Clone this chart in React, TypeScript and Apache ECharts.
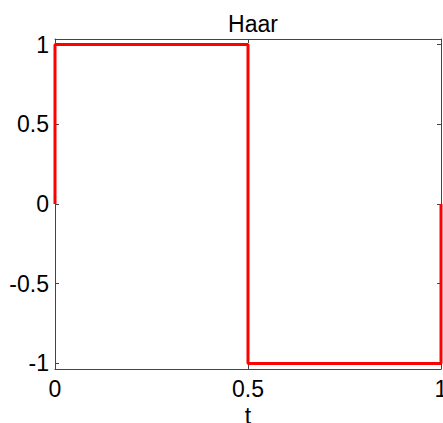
import React, { useEffect, useRef } from "react";
import * as echarts from "echarts";

const tValues = [0, 0, 0.5, 0.5, 1, 1];
const haarValues = [0, 1, 1, -1, -1, 0];
const xTicks = [0, 0.5, 1];
const yTicks = [-1, -0.5, 0, 0.5, 1];
const titleText = "Haar";
const xName = "t";

export default function App() {
  const ref = useRef<HTMLDivElement>(null);
  useEffect(() => {
    if (!ref.current) return;
    const chart = echarts.init(ref.current, null, { renderer: "svg" });
    const font = "'Liberation Sans', Arial, sans-serif";
    const axisLine = { show: true, onZero: false, lineStyle: { color: "#444", width: 1 } };
    const tick = { show: true, inside: true, length: 4, lineStyle: { color: "#444", width: 1 } };
    chart.setOption({
      animation: false,
      backgroundColor: "#ffffff",
      title: {
        text: titleText,
        left: 248,
        top: 7,
        textAlign: "center",
        textStyle: { fontFamily: font, fontSize: 23, fontWeight: "normal", color: "#000" },
      },
      grid: { left: 55, top: 39, width: 386, height: 330, containLabel: false, outerBoundsMode: "none" },
      xAxis: [
        {
          type: "value",
          min: 0,
          max: 1,
          interval: 0.5,
          position: "bottom",
          axisLine,
          axisTick: { ...tick, customValues: xTicks },
          axisLabel: { customValues: xTicks, color: "#000", fontFamily: font, fontSize: 23, margin: 8 },
          splitLine: { show: false },
          name: xName,
          nameLocation: "middle",
          nameGap: 28,
          nameTextStyle: { color: "#000", fontFamily: font, fontSize: 23 },
        },
        {
          type: "value",
          min: 0,
          max: 1,
          interval: 0.5,
          position: "top",
          axisLine,
          axisTick: { ...tick, customValues: xTicks },
          axisLabel: { show: false },
          splitLine: { show: false },
        },
      ],
      yAxis: [
        {
          type: "value",
          min: -1.035,
          max: 1.035,
          position: "left",
          axisLine,
          axisTick: { ...tick, customValues: yTicks },
          axisLabel: {
            customValues: yTicks,
            color: "#000",
            fontFamily: font,
            fontSize: 23,
            margin: 6,
            formatter: (v: number) => String(v),
          },
          splitLine: { show: false },
        },
        {
          type: "value",
          min: -1.035,
          max: 1.035,
          position: "right",
          axisLine,
          axisTick: { ...tick, customValues: yTicks },
          axisLabel: { show: false },
          splitLine: { show: false },
        },
      ],
      series: [
        {
          type: "line",
          data: tValues.map((t, i) => [t, haarValues[i]]),
          xAxisIndex: 0,
          yAxisIndex: 0,
          showSymbol: false,
          symbol: "none",
          clip: false,
          lineStyle: { color: "#ff0000", width: 3 },
        },
      ],
    });
    return () => chart.dispose();
  }, []);
  return (
    <div
      ref={ref}
      style={{ position: "absolute", left: 0, top: 0, width: 443, height: 423 }}
    />
  );
}
